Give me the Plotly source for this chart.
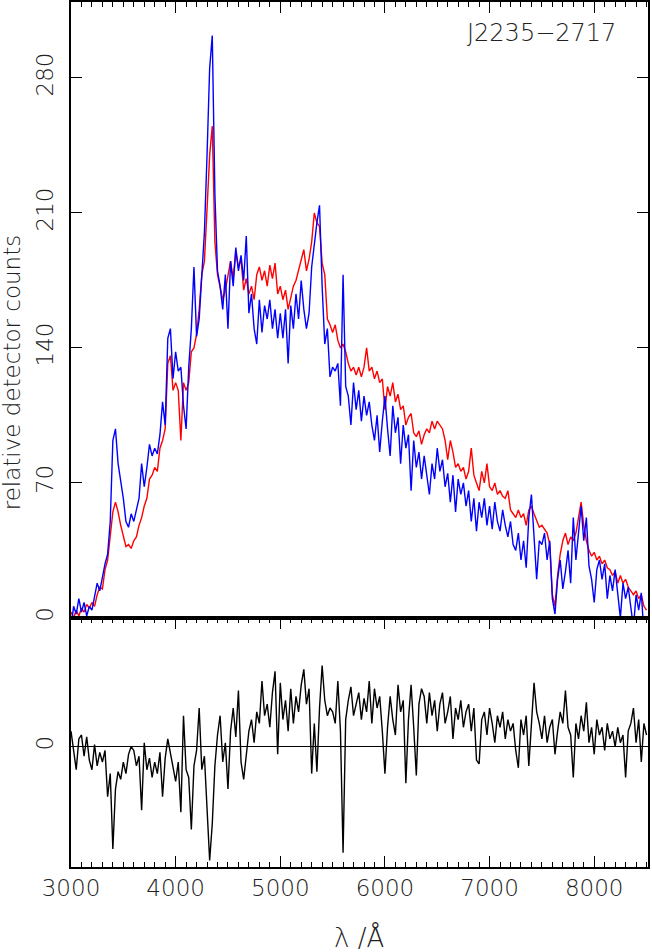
import plotly.graph_objects as go

# wavelength grid (Angstrom), 25 A sampling
wavelength = list(range(3000, 8525, 25))

# blue spectrum (relative detector counts)
blue_counts = [
    -5, 6, 2, 10, 3, 8, 1, 6, 4, 12, 18, 14, 22, 28, 33, 50, 92, 98, 80, 72,
    62, 50, 47, 54, 50, 56, 62, 80, 68, 78, 90, 84, 88, 85, 95, 112, 100, 145, 150, 124,
    138, 128, 130, 110, 98, 130, 150, 182, 146, 155, 175, 200, 240, 285, 302, 220, 180, 172, 160, 178,
    150, 185, 172, 192, 180, 188, 175, 198, 158, 168, 150, 142, 165, 148, 162, 155, 165, 150, 160, 145,
    158, 145, 160, 132, 162, 150, 168, 155, 175, 160, 150, 158, 182, 195, 205, 214, 172, 142, 150, 125,
    130, 128, 132, 110, 178, 120, 115, 100, 122, 108, 118, 102, 115, 105, 112, 100, 92, 105, 86, 102,
    115, 98, 84, 110, 96, 104, 80, 100, 88, 95, 66, 92, 78, 86, 72, 84, 74, 64, 80, 72,
    88, 76, 82, 68, 75, 60, 74, 55, 72, 64, 70, 58, 66, 50, 62, 45, 60, 52, 62, 48,
    58, 46, 60, 50, 45, 56, 48, 42, 50, 38, 35, 44, 30, 40, 26, 52, 64, 44, 20, 40,
    38, 44, 30, 40, 10, 2, 20, 30, 15, 24, 35, 18, 52, 30, 45, 58, 40, 52, 27, 20,
    8, 25, 30, 20, 28, 10, 22, 14, 25, 12, 0, 18, 10, 16, 6, -5, 12, 4, 13, -8, -6,
]

# red spectrum (relative detector counts)
red_counts = [
    3, 0, 4, 1, 5, 3, 7, 5, 8, 6, 12, 16, 15, 25, 30, 42, 55, 60, 55, 48,
    42, 37, 38, 36, 40, 42, 48, 52, 58, 62, 72, 74, 78, 76, 88, 92, 98, 132, 136, 118,
    122, 118, 92, 122, 118, 122, 138, 140, 147, 160, 178, 185, 212, 240, 255, 195, 178, 172, 165, 170,
    178, 185, 176, 190, 182, 186, 170, 176, 168, 172, 165, 178, 182, 175, 180, 172, 183, 176, 184, 168,
    172, 165, 170, 160, 166, 172, 175, 180, 186, 191, 180, 186, 195, 210, 205, 203, 184, 178, 155, 152,
    148, 152, 144, 140, 142, 138, 132, 128, 130, 126, 130, 125, 130, 140, 128, 130, 124, 128, 122, 124,
    108, 120, 115, 122, 112, 116, 108, 110, 100, 104, 106, 96, 94, 97, 90, 95, 98, 96, 102, 98,
    102, 100, 98, 92, 82, 92, 86, 78, 80, 76, 78, 72, 76, 88, 74, 70, 66, 76, 70, 80,
    68, 66, 70, 64, 66, 63, 62, 66, 56, 54, 52, 56, 52, 54, 48, 56, 58, 54, 50, 47,
    48, 46, 44, 38, 12, 6, 22, 33, 40, 44, 38, 42, 40, 44, 52, 60, 48, 40, 35, 32,
    34, 30, 32, 28, 30, 26, 25, 22, 24, 18, 22, 18, 20, 16, 14, 12, 14, 10, 12, 6, 4,
]

# residual (lower panel)
residual = [
    8, -3, -12, 4, 6, -5, 5, -7, -12, 1, -10, -3, -8, -2, -26, -14, -53, -22, -13, -17,
    -8, -14, -4, 0, -2, -10, -5, -33, 2, -12, -6, -16, -8, -14, -3, -26, -6, 4, -4, -10,
    -18, -8, -34, 16, -12, -16, -43, -10, -2, 20, -12, -5, -36, -59, -40, -10, 6, 16, -8, 2,
    -22, 8, 20, 5, 29, -8, -17, -5, 8, 14, 2, 18, 12, 34, 16, 22, 10, 28, 39, -4,
    33, 14, 24, 8, 30, 12, 26, 18, 32, 40, 22, 30, -14, 12, -13, 20, 42, 24, 16, 20,
    18, 12, 34, 8, -55, 14, 24, 31, 16, 22, 28, 14, 25, 18, 34, 12, 30, 20, 26, 8,
    -14, 10, 26, 14, 6, 32, 18, 24, -19, 14, 32, 10, -15, 22, 30, 26, 12, 28, 16, 24,
    8, 22, 28, 12, 18, 26, 4, 20, 14, 24, 10, 18, 22, 8, 20, -7, -9, 14, 18, 6,
    20, 12, 2, 16, 10, 18, 4, 14, 8, 12, -2, -11, 14, 6, 16, -10, 10, 33, 18, 12,
    4, 16, 2, 10, 14, -4, 8, 18, 12, 29, 10, 6, -16, 12, 4, 16, 8, 23, 2, 10,
    -4, 14, 6, 10, -2, 12, 4, 8, 0, 10, 2, 6, -16, 8, 12, 20, 2, 14, -8, 12, 6,
]

x_ticks = [3000, 4000, 5000, 6000, 7000, 8000]
y_ticks = [0, 70, 140, 210, 280]

font = dict(family="DejaVu Sans", size=23, color="#222222", weight=200)
axis_style = dict(
    showline=True, linecolor="black", linewidth=1.5, showgrid=False,
    ticks="inside", ticklen=11, tickwidth=1.2, tickcolor="black",
    zeroline=False, tickfont=font,
)

fig = go.Figure()
fig.add_trace(go.Scatter(x=wavelength, y=red_counts, mode="lines",
                         line=dict(color="#ff0000", width=1.4), xaxis="x", yaxis="y"))
fig.add_trace(go.Scatter(x=wavelength, y=blue_counts, mode="lines",
                         line=dict(color="#0000ff", width=1.4), xaxis="x", yaxis="y"))
fig.add_trace(go.Scatter(x=wavelength, y=residual, mode="lines",
                         line=dict(color="black", width=1.4), xaxis="x2", yaxis="y2"))

fig.update_layout(
    width=652, height=952,
    margin=dict(l=71, r=2, t=2, b=85),
    paper_bgcolor="white", plot_bgcolor="white",
    showlegend=False,
    xaxis=dict(axis_style, anchor="y", side="top", range=[3000, 8514],
               tickvals=x_ticks, showticklabels=False, mirror=True,
               minor=dict(dtick=100, ticks="inside", ticklen=5, tickcolor="black")),
    xaxis2=dict(axis_style, anchor="y2", range=[3000, 8514], tickvals=x_ticks,
                mirror="ticks", matches="x",
                minor=dict(dtick=100, ticks="inside", ticklen=5, tickcolor="black")),
    yaxis=dict(axis_style, domain=[0.288, 1], range=[0, 319.4], tickvals=y_ticks,
               mirror="ticks", tickangle=-90, ticklabelstandoff=7),
    yaxis2=dict(axis_style, domain=[0, 0.288], range=[-62.4, 66.7], tickvals=[0],
                mirror="ticks", tickangle=-90, ticklabelstandoff=7,
                zeroline=True, zerolinecolor="black", zerolinewidth=1.2),
)

fig.add_annotation(text="relative detector counts", xref="paper", yref="paper",
                   x=-0.102, y=0.571, xanchor="center", yanchor="middle",
                   textangle=-90, showarrow=False, font=dict(font, size=23))
fig.add_annotation(text="λ /Å", xref="paper", yref="paper", x=0.499, y=-0.081,
                   xanchor="center", yanchor="middle", showarrow=False,
                   font=dict(font, size=26))
fig.add_annotation(text="J2235−2717", xref="paper", yref="paper", x=0.815, y=0.964,
                   xanchor="center", yanchor="middle", showarrow=False,
                   font=dict(font, size=24))

fig.write_html("out.html", config={"displayModeBar": False},
               post_script="document.body.style.margin='0px';"
                           "document.body.style.overflow='hidden';")
